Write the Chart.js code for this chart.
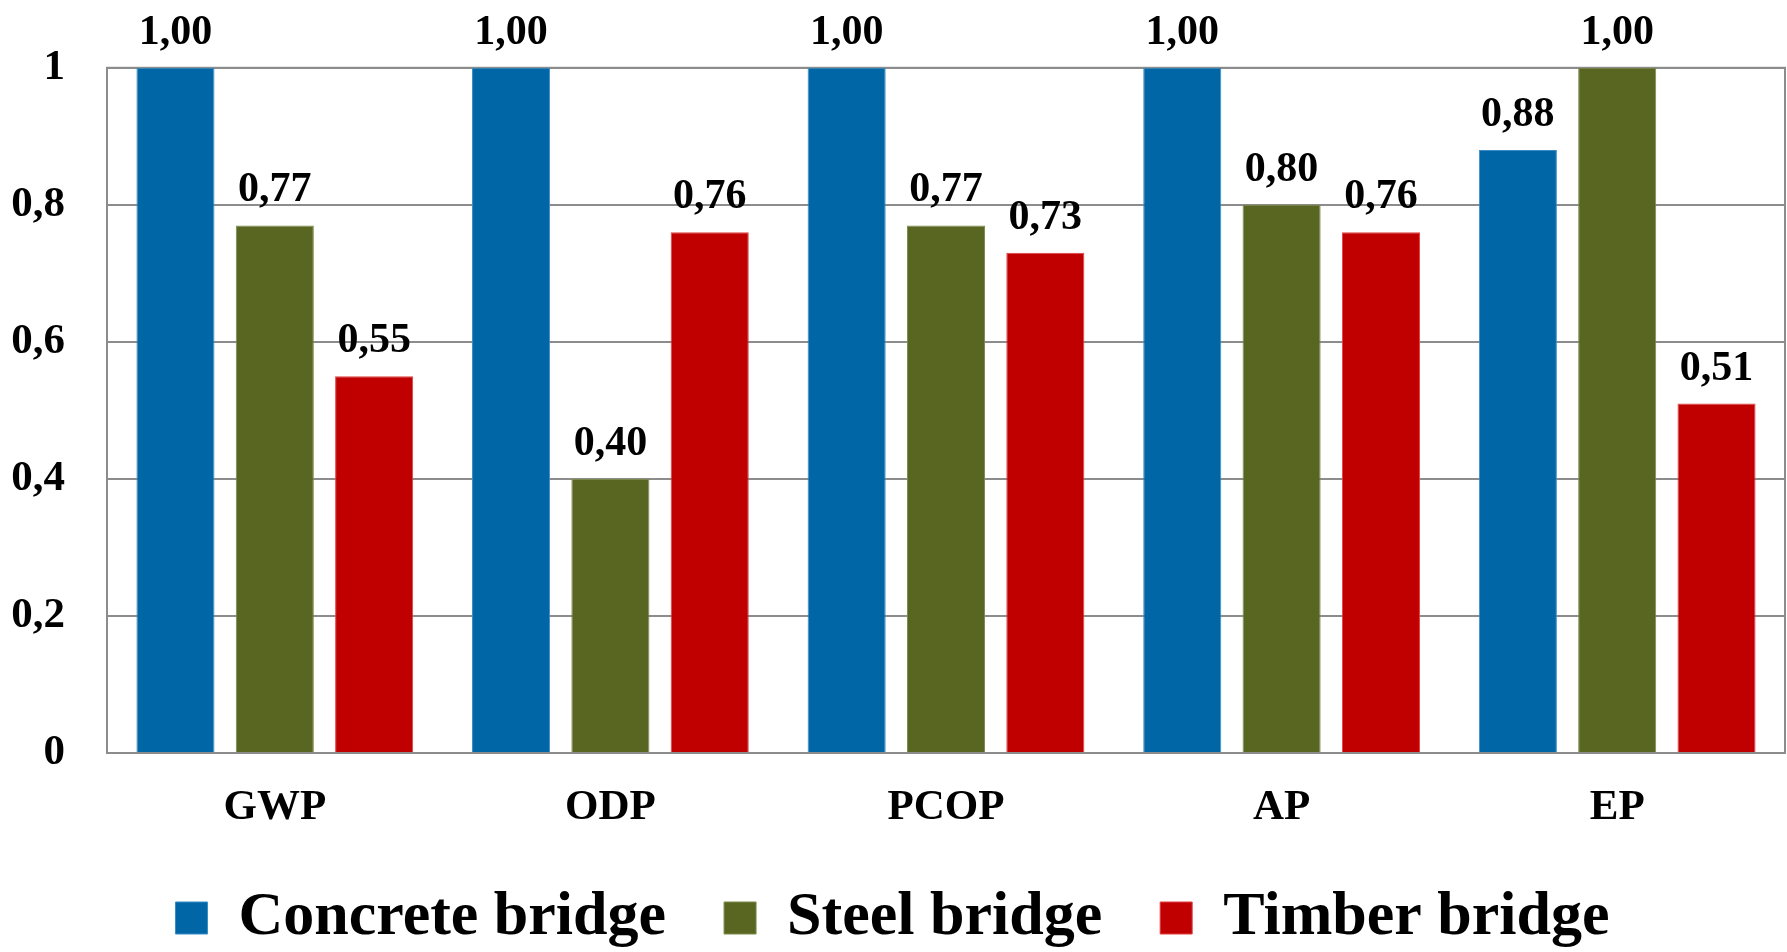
<!DOCTYPE html>
<html>
<head>
<meta charset="utf-8">
<style>
  html, body { margin: 0; padding: 0; background: #ffffff; }
  #wrap { width: 1787px; height: 952px; position: relative; }
</style>
<script src="https://cdn.jsdelivr.net/npm/chart.js@4/dist/chart.umd.min.js"></script>
</head>
<body>
<div id="wrap"><canvas id="chart" width="1787" height="952"></canvas></div>
<script>
// Impact categories and normalised results per bridge type
const categories = ['GWP', 'ODP', 'PCOP', 'AP', 'EP'];
const concreteBridge = [1.00, 1.00, 1.00, 1.00, 0.88];
const steelBridge    = [0.77, 0.40, 0.77, 0.80, 1.00];
const timberBridge   = [0.55, 0.76, 0.73, 0.76, 0.51];
const seriesNames = ['Concrete bridge', 'Steel bridge', 'Timber bridge'];
const yTicks = [0, 0.2, 0.4, 0.6, 0.8, 1];

const FONT = '"Liberation Serif", "Times New Roman", serif';
const GRID = '#8c8c8c';
const LEGEND_BAND = 123;   // vertical room kept for the legend strip
const XAXIS_BAND = 76;     // vertical room kept for the category labels

const decimalComma = (v, d) => v.toFixed(d).replace('.', ',');

// Value labels above every bar
const barLabels = {
  id: 'barLabels',
  afterDatasetsDraw(chart) {
    const ctx = chart.ctx;
    ctx.save();
    ctx.font = 'bold 42px ' + FONT;
    ctx.fillStyle = '#000000';
    ctx.textAlign = 'center';
    ctx.textBaseline = 'alphabetic';
    chart.data.datasets.forEach((ds, i) => {
      chart.getDatasetMeta(i).data.forEach((bar, j) => {
        ctx.fillText(decimalComma(ds.data[j], 2), bar.x, bar.y - 24);
      });
    });
    ctx.restore();
  }
};

// Frame around the plotting area
const plotFrame = {
  id: 'plotFrame',
  beforeDatasetsDraw(chart) {
    const a = chart.chartArea;
    const ctx = chart.ctx;
    ctx.save();
    ctx.strokeStyle = GRID;
    ctx.lineWidth = 2;
    ctx.strokeRect(a.left, a.top, a.right - a.left, a.bottom - a.top);
    ctx.restore();
  }
};

// Keep the legend strip compact at the foot of the canvas
const legendBand = {
  id: 'legendBand',
  beforeUpdate(chart) {
    const lg = chart.legend;
    if (lg && !lg.__banded) {
      const fit = lg.fit;
      lg.fit = function () { fit.call(this); this.height = LEGEND_BAND; };
      lg.__banded = true;
    }
  }
};

new Chart(document.getElementById('chart'), {
  type: 'bar',
  data: {
    labels: categories,
    datasets: [
      { label: seriesNames[0], data: concreteBridge, backgroundColor: '#0066A6', borderColor: '#3a8cc4', borderWidth: 1 },
      { label: seriesNames[1], data: steelBridge,    backgroundColor: '#586621', borderColor: '#7a8a4a', borderWidth: 1 },
      { label: seriesNames[2], data: timberBridge,   backgroundColor: '#C00000', borderColor: '#e04040', borderWidth: 1 }
    ]
  },
  options: {
    responsive: false,
    animation: false,
    layout: { padding: { top: 64, right: 2, left: 0, bottom: 0 } },
    datasets: { bar: { categoryPercentage: 0.888, barPercentage: 0.786 } },
    scales: {
      x: {
        afterFit(scale) { scale.height = XAXIS_BAND; },
        grid: { display: false, drawTicks: false },
        border: { display: true, color: GRID, width: 2 },
        ticks: { color: '#000', font: { family: FONT, size: 43, weight: 'bold', lineHeight: 1 }, padding: 33 }
      },
      y: {
        min: 0, max: 1,
        afterBuildTicks(scale) { scale.ticks = yTicks.map(v => ({ value: v })); },
        afterFit(scale) { scale.width = 107; },
        grid: { color: GRID, lineWidth: 2, drawTicks: false },
        border: { display: true, color: GRID, width: 2 },
        ticks: {
          color: '#000', padding: 42,
          font: { family: FONT, size: 43, weight: 'bold' },
          callback: v => (v === 0 || v === 1) ? String(v) : decimalComma(v, 1)
        }
      }
    },
    plugins: {
      legend: {
        position: 'bottom',
        labels: {
          color: '#000', boxWidth: 32, boxHeight: 32, padding: 58,
          font: { family: FONT, size: 62, weight: 'bold' }
        }
      },
      tooltip: { enabled: false }
    }
  },
  plugins: [legendBand, plotFrame, barLabels]
});
</script>
</body>
</html>
